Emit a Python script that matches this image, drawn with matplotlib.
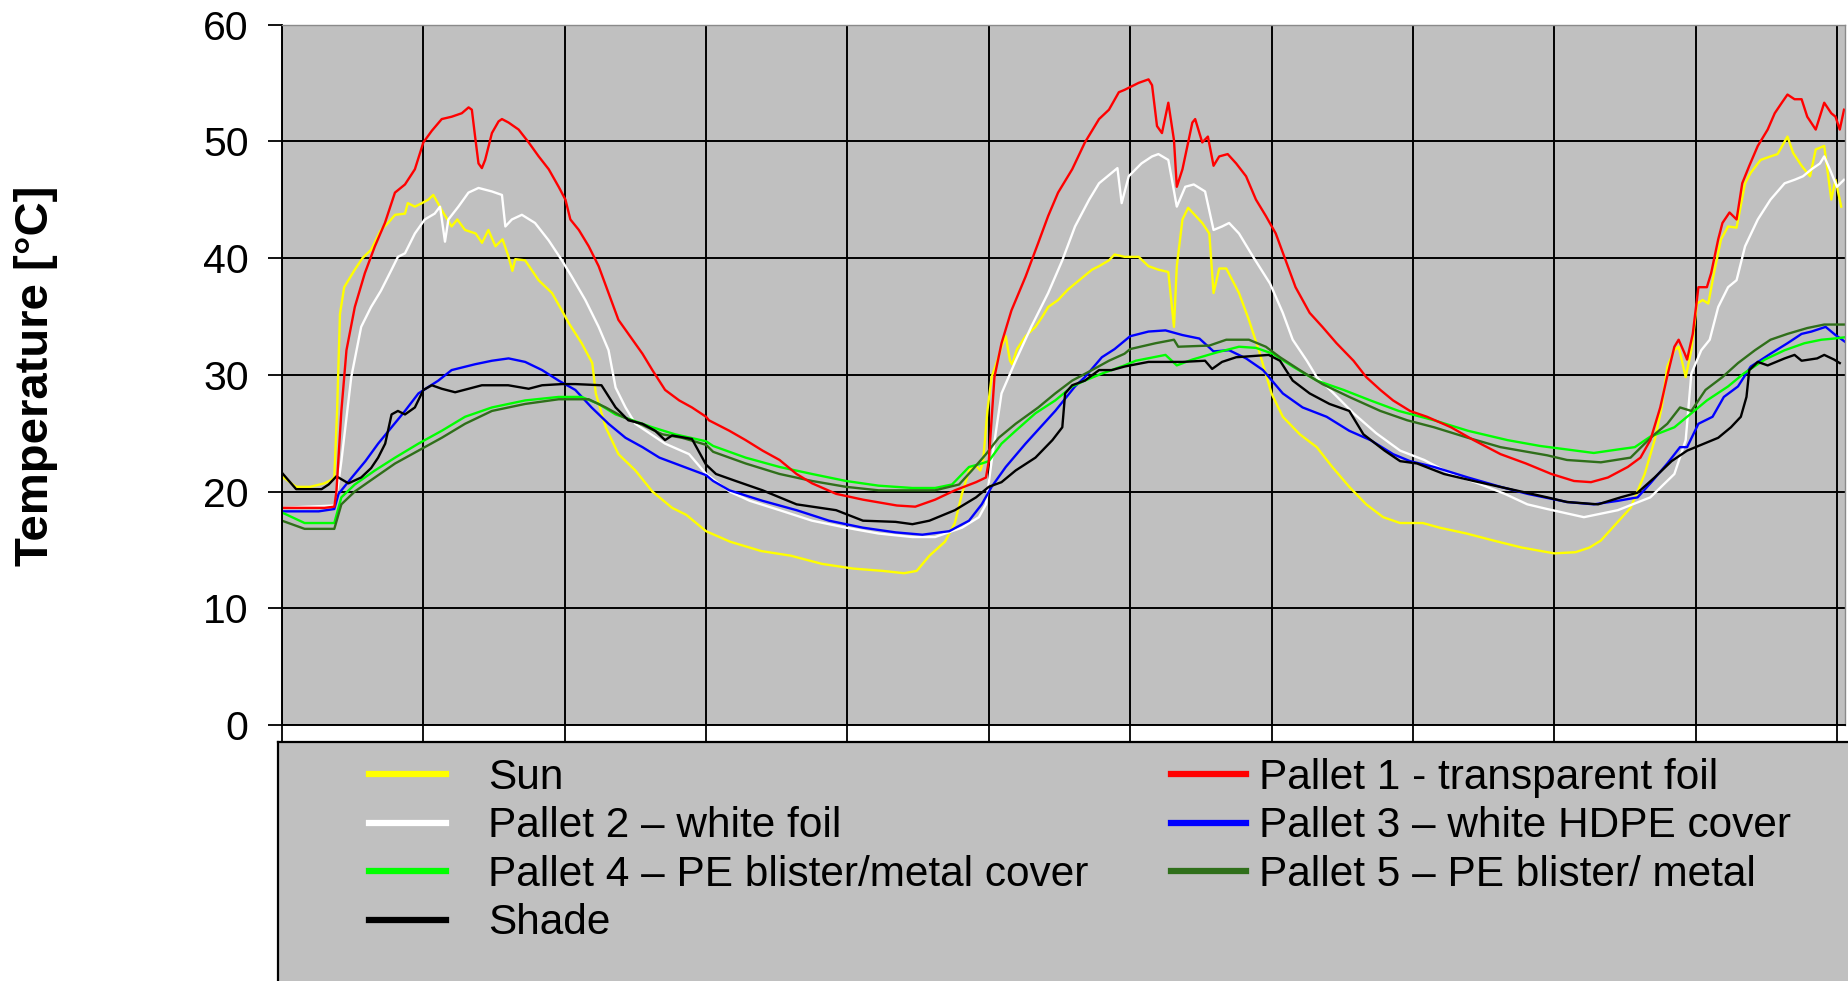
import matplotlib
matplotlib.use('Agg')
import matplotlib.pyplot as plt

plt.rcParams['font.family'] = ['Liberation Sans', 'DejaVu Sans']

# time runs over 11 unlabelled chart intervals; temperatures in deg C
sun_x = [0, 0.1, 0.2, 0.3, 0.35, 0.37, 0.39, 0.41, 0.44, 0.515, 0.57, 0.63, 0.70, 0.75, 0.80, 0.87,
         0.89, 0.94, 0.99, 1.035, 1.07, 1.13, 1.20, 1.24, 1.295, 1.37, 1.415, 1.46, 1.51, 1.56, 1.60,
         1.63, 1.65, 1.72, 1.815, 1.91, 1.98, 2.03, 2.12, 2.195, 2.22, 2.29, 2.38, 2.50, 2.62, 2.76,
         2.86, 3.0, 3.17, 3.39, 3.6, 3.82, 4.04, 4.25, 4.4, 4.49, 4.58, 4.69, 4.76, 4.81, 4.86, 4.91,
         4.94, 4.96, 4.99, 5.02, 5.06, 5.09, 5.12, 5.15, 5.165, 5.2, 5.26, 5.33, 5.38, 5.42, 5.49,
         5.56, 5.64, 5.73, 5.78, 5.85, 5.89, 5.96, 6.06, 6.13, 6.2, 6.27, 6.31, 6.33, 6.37, 6.41,
         6.51, 6.56, 6.59, 6.63, 6.68, 6.77, 6.84, 6.91, 7.0, 7.08, 7.2, 7.32, 7.43, 7.55, 7.67,
         7.79, 7.91, 8.07, 8.19, 8.38, 8.57, 8.77, 9.0, 9.15, 9.25, 9.33, 9.54, 9.64, 9.71, 9.76,
         9.80, 9.85, 9.88, 9.93, 9.97, 10.01, 10.05, 10.09, 10.13, 10.18, 10.23, 10.29, 10.35,
         10.39, 10.46, 10.53, 10.58, 10.65, 10.69, 10.75, 10.81, 10.85, 10.91, 10.96, 10.99, 11.03]
sun_y = [21.3, 20.4, 20.4, 20.7, 21.0, 21.2, 27.0, 35.2, 37.5, 39.0, 40.0, 40.7, 42.4, 43.0, 43.7, 43.8,
         44.7, 44.4, 44.7, 45.0, 45.4, 44.1, 42.7, 43.3, 42.4, 42.1, 41.3, 42.4, 41.0, 41.6, 40.2,
         38.9, 39.9, 39.8, 38.1, 37.0, 35.5, 34.4, 32.7, 31.0, 28.4, 25.5, 23.2, 21.8, 20.0, 18.6,
         18.0, 16.6, 15.7, 14.9, 14.5, 13.8, 13.4, 13.2, 13.0, 13.2, 14.5, 15.7, 17.3, 19.8, 21.8, 22.2,
         21.8, 22.6, 26.9, 29.8, 31.2, 32.4, 33.3, 31.2, 30.9, 32.2, 33.3, 34.1, 35.0, 35.8, 36.4,
         37.3, 38.1, 39.0, 39.3, 39.8, 40.3, 40.1, 40.1, 39.3, 39.0, 38.8, 34.1, 39.3, 43.3, 44.3,
         43.0, 42.1, 37.0, 39.1, 39.1, 37.0, 34.7, 32.1, 28.4, 26.4, 24.9, 23.8, 22.1, 20.4, 18.9,
         17.8, 17.3, 17.3, 16.9, 16.4, 15.8, 15.2, 14.7, 14.8, 15.2, 15.8, 18.6, 21.5, 24.4, 27.2,
         30.7, 32.1, 32.4, 29.8, 32.1, 36.1, 36.4, 36.1, 38.7, 41.6, 42.7, 42.6, 46.4,
         47.3, 48.4, 48.7, 48.9, 50.4, 49.0, 47.9, 47.0, 49.3, 49.6, 45.0, 46.7, 44.4]

p1_x = [0, 0.1, 0.3, 0.37, 0.385, 0.42, 0.456, 0.515, 0.586, 0.657, 0.728, 0.799, 0.87, 0.94, 1.0,
        1.06, 1.13, 1.20, 1.272, 1.32, 1.343, 1.366, 1.39, 1.414, 1.437, 1.485, 1.532, 1.556, 1.603,
        1.674, 1.745, 1.816, 1.887, 1.957, 2.005, 2.04, 2.10, 2.17, 2.24, 2.31, 2.38, 2.48, 2.55,
        2.62, 2.71, 2.81, 2.90, 3.0, 3.02, 3.165, 3.28, 3.40, 3.52, 3.64, 3.75, 3.92, 4.11, 4.35,
        4.48, 4.62, 4.76, 4.91, 4.98, 5.0, 5.04, 5.09, 5.16, 5.26, 5.35, 5.42, 5.49, 5.59, 5.68,
        5.78, 5.85, 5.92, 5.96, 6.06, 6.13, 6.155, 6.19, 6.225, 6.27, 6.31, 6.33, 6.37, 6.44, 6.46,
        6.51, 6.55, 6.59, 6.63, 6.69, 6.75, 6.82, 6.89, 6.96, 7.03, 7.10, 7.17, 7.27, 7.36, 7.46,
        7.58, 7.67, 7.77, 7.86, 7.98, 8.10, 8.27, 8.43, 8.62, 8.80, 8.98, 9.14, 9.26, 9.38, 9.52,
        9.61, 9.68, 9.75, 9.80, 9.85, 9.88, 9.92, 9.94, 9.98, 10.02, 10.08, 10.11, 10.16, 10.19,
        10.24, 10.29, 10.33, 10.38, 10.44, 10.51, 10.56, 10.61, 10.65, 10.70, 10.75, 10.79, 10.85,
        10.91, 10.96, 10.99, 11.02, 11.05]
p1_y = [18.6, 18.6, 18.6, 18.7, 20.0, 26.9, 32.1, 35.8, 38.7, 41.0, 43.0, 45.6, 46.3, 47.6, 49.9,
        50.9, 51.9, 52.1, 52.4, 52.9, 52.7, 50.4, 48.1, 47.7, 48.4, 50.7, 51.7, 51.9, 51.6,
        51.0, 49.9, 48.7, 47.6, 46.1, 45.0, 43.3, 42.4, 41.0, 39.3, 37.0, 34.7, 33.0, 31.8,
        30.4, 28.7, 27.8, 27.2, 26.4, 26.1, 25.2, 24.4, 23.5, 22.7, 21.5, 20.7, 19.8, 19.3, 18.8,
        18.7, 19.3, 20.1, 20.8, 21.2, 22.6, 29.8, 32.7, 35.5, 38.4, 41.3, 43.6, 45.6, 47.6, 49.9,
        51.9, 52.7, 54.2, 54.4, 55.0, 55.3, 54.8, 51.3, 50.7, 53.3, 50.1, 46.1, 47.6, 51.6, 51.9,
        49.9, 50.4, 47.9, 48.7, 48.9, 48.1, 47.0, 45.0, 43.6, 42.1, 39.8, 37.5, 35.3, 34.1, 32.7,
        31.2, 29.8, 28.7, 27.8, 26.9, 26.4, 25.5, 24.4, 23.2, 22.4, 21.5, 20.9, 20.8, 21.2, 22.1,
        22.9, 24.4, 27.2, 29.9, 32.4, 33.0, 31.9, 31.3, 33.5, 37.5, 37.5, 38.7, 41.6, 43.0,
        43.9, 43.3, 46.4, 47.9, 49.6, 51.0, 52.4, 53.3, 54.0, 53.6, 53.6, 52.1, 51.0,
        53.3, 52.4, 52.1, 51.0, 52.7]

p2_x = [0, 0.37, 0.385, 0.42, 0.49, 0.56, 0.63, 0.70, 0.775, 0.82, 0.87, 0.94, 1.01, 1.08, 1.118,
        1.153, 1.177, 1.248, 1.319, 1.39, 1.485, 1.556, 1.58, 1.626, 1.697, 1.79, 1.887, 1.98, 2.05,
        2.146, 2.24, 2.31, 2.36, 2.43, 2.50, 2.71, 2.88, 3.0, 3.165, 3.31, 3.52, 3.75, 3.99, 4.22,
        4.46, 4.62, 4.81, 4.93, 4.98, 5.02, 5.09, 5.19, 5.30, 5.42, 5.52, 5.61, 5.71, 5.78, 5.87,
        5.91, 5.94, 5.99, 6.08, 6.155, 6.20, 6.27, 6.33, 6.39, 6.45, 6.53, 6.59, 6.65, 6.70, 6.77,
        6.87, 6.99, 7.08, 7.15, 7.25, 7.32, 7.44, 7.58, 7.74, 7.91, 8.08, 8.27, 8.46, 8.65, 8.81,
        8.95, 9.21, 9.45, 9.68, 9.85, 9.93, 9.97, 10.04, 10.1, 10.16, 10.23, 10.29, 10.35, 10.44,
        10.53, 10.63, 10.70, 10.76, 10.82, 10.88, 10.91, 10.96, 11.0, 11.05]
p2_y = [18.6, 18.8, 19.5, 22.6, 29.8, 34.1, 35.8, 37.2, 39.0, 40.1, 40.4, 42.1, 43.3, 43.8, 44.4,
        41.4, 43.3, 44.4, 45.6, 46.0, 45.7, 45.4, 42.7, 43.3, 43.7, 43.0, 41.5, 39.8, 38.4,
        36.4, 34.1, 32.1, 28.9, 27.2, 25.8, 24.1, 23.2, 21.5, 20.0, 19.2, 18.4, 17.5, 16.9, 16.4,
        16.1, 16.1, 16.9, 17.8, 18.9, 22.6, 28.4, 31.2, 34.1, 37.0, 39.8, 42.7, 45.0, 46.4, 47.3,
        47.7, 44.7, 47.0, 48.1, 48.7, 48.9, 48.4, 44.4, 46.1, 46.3, 45.7, 42.4, 42.7, 43.0, 42.1,
        40.1, 37.8, 35.3, 33.0, 31.2, 29.8, 28.4, 26.7, 25.0, 23.5, 22.7, 21.5, 20.7, 19.8, 18.9,
        18.5, 17.8, 18.4, 19.5, 21.5, 24.4, 30.1, 32.1, 33.0, 35.8, 37.5, 38.1, 41.0, 43.3,
        45.0, 46.4, 46.7, 47.0, 47.6, 48.1, 48.7, 47.3, 46.1, 46.7]

p3_x = [0, 0.26, 0.37, 0.40, 0.494, 0.59, 0.68, 0.775, 0.87, 0.965, 1.106, 1.20, 1.366, 1.485,
        1.603, 1.72, 1.84, 1.957, 2.075, 2.19, 2.31, 2.43, 2.55, 2.67, 2.78, 3.0, 3.05, 3.165, 3.40,
        3.64, 3.87, 4.11, 4.34, 4.53, 4.72, 4.86, 4.95, 5.02, 5.12, 5.26, 5.47, 5.61, 5.68, 5.80,
        5.89, 6.0, 6.13, 6.25, 6.37, 6.49, 6.59, 6.70, 6.82, 6.94, 7.08, 7.22, 7.39, 7.55, 7.70,
        7.86, 7.98, 8.15, 8.39, 8.62, 8.81, 9.09, 9.28, 9.45, 9.59, 9.68, 9.80, 9.89, 9.94, 10.02,
        10.12, 10.20, 10.30, 10.39, 10.53, 10.65, 10.75, 10.82, 10.92, 10.99, 11.06]
p3_y = [18.3, 18.3, 18.5, 19.8, 21.2, 22.6, 24.1, 25.5, 26.9, 28.4, 29.5, 30.4, 30.9, 31.2,
        31.4, 31.1, 30.4, 29.5, 28.7, 27.2, 25.8, 24.6, 23.8, 22.9, 22.4, 21.4, 20.9, 20.1, 19.2,
        18.4, 17.5, 16.9, 16.5, 16.3, 16.6, 17.5, 18.9, 20.4, 22.1, 24.1, 26.9, 29.0, 29.8, 31.5,
        32.2, 33.3, 33.7, 33.8, 33.4, 33.1, 32.0, 32.1, 31.4, 30.4, 28.4, 27.2, 26.4, 25.2, 24.4,
        23.2, 22.6, 22.1, 21.2, 20.4, 19.8, 19.1, 18.9, 19.2, 19.5, 20.7, 22.4, 23.8, 23.8, 25.8,
        26.4, 28.1, 29.0, 30.7, 31.8, 32.7, 33.5, 33.7, 34.1, 33.4, 32.8]

p4_x = [0, 0.16, 0.37, 0.42, 0.515, 0.657, 0.80, 0.965, 1.13, 1.295, 1.485, 1.72, 1.957, 2.12,
        2.24, 2.36, 2.48, 2.62, 2.78, 3.0, 3.05, 3.28, 3.52, 3.75, 3.99, 4.22, 4.46, 4.62, 4.74,
        4.86, 4.95, 5.0, 5.09, 5.19, 5.33, 5.47, 5.59, 5.68, 5.80, 5.96, 6.04, 6.25, 6.33, 6.44,
        6.61, 6.77, 6.89, 7.01, 7.15, 7.32, 7.51, 7.70, 7.90, 8.15, 8.39, 8.67, 8.90, 9.09, 9.28,
        9.45, 9.57, 9.68, 9.85, 9.94, 10.08, 10.23, 10.34, 10.49, 10.63, 10.77, 10.89, 10.98, 11.05]
p4_y = [18.2, 17.3, 17.3, 19.5, 20.6, 21.8, 22.9, 24.1, 25.2, 26.4, 27.2, 27.8, 28.1, 28.1,
        27.5, 26.6, 26.1, 25.5, 24.9, 24.3, 23.9, 22.9, 22.1, 21.5, 20.9, 20.5, 20.3, 20.3, 20.6,
        22.1, 22.4, 22.6, 24.1, 25.2, 26.7, 27.8, 29.0, 29.5, 30.1, 30.8, 31.2, 31.7, 30.8, 31.3,
        31.9, 32.4, 32.3, 31.8, 30.7, 29.5, 28.7, 27.8, 26.9, 26.1, 25.2, 24.4, 23.9, 23.6, 23.3,
        23.6, 23.8, 24.7, 25.5, 26.4, 27.8, 29.0, 30.1, 31.3, 32.1, 32.7, 33.0, 33.1, 33.2]

p5_x = [0, 0.16, 0.37, 0.42, 0.515, 0.657, 0.80, 0.965, 1.13, 1.295, 1.485, 1.72, 1.957, 2.17,
        2.29, 2.41, 2.55, 2.69, 2.83, 3.0, 3.05, 3.28, 3.52, 3.75, 3.99, 4.22, 4.62, 4.79, 4.88,
        4.98, 5.07, 5.19, 5.35, 5.47, 5.59, 5.73, 5.85, 5.96, 6.0, 6.18, 6.31, 6.34, 6.56, 6.68,
        6.84, 6.96, 7.06, 7.20, 7.36, 7.55, 7.77, 7.96, 8.15, 8.39, 8.62, 8.95, 9.09, 9.33, 9.54,
        9.64, 9.71, 9.80, 9.89, 9.97, 10.07, 10.19, 10.30, 10.42, 10.53, 10.65, 10.79, 10.91, 11.05]
p5_y = [17.5, 16.8, 16.8, 18.9, 20.0, 21.2, 22.4, 23.5, 24.6, 25.8, 26.9, 27.5, 27.9, 27.9,
        27.2, 26.4, 25.7, 24.9, 24.6, 24.0, 23.4, 22.4, 21.5, 20.9, 20.4, 20.1, 20.1, 20.6, 21.8,
        23.2, 24.6, 25.8, 27.2, 28.4, 29.5, 30.4, 31.2, 31.8, 32.2, 32.7, 33.0, 32.4, 32.5, 33.0,
        33.0, 32.4, 31.5, 30.4, 29.2, 28.1, 26.9, 26.1, 25.5, 24.6, 23.8, 23.1, 22.7, 22.5, 22.9,
        24.1, 24.9, 25.8, 27.2, 26.9, 28.7, 29.8, 31.0, 32.1, 33.0, 33.5, 34.0, 34.3, 34.3]

shade_x = [0, 0.1, 0.28, 0.33, 0.385, 0.47, 0.56, 0.63, 0.68, 0.73, 0.775, 0.82, 0.87, 0.94, 1.0,
           1.06, 1.13, 1.225, 1.32, 1.414, 1.60, 1.745, 1.84, 1.98, 2.075, 2.26, 2.36, 2.45, 2.55,
           2.64, 2.71, 2.76, 2.90, 3.0, 3.07, 3.21, 3.40, 3.64, 3.92, 4.11, 4.34, 4.46, 4.58, 4.76,
           4.91, 5.0, 5.09, 5.19, 5.33, 5.45, 5.52, 5.54, 5.59, 5.68, 5.78, 5.87, 5.96, 6.0, 6.13,
           6.37, 6.53, 6.58, 6.65, 6.75, 6.98, 7.06, 7.15, 7.27, 7.41, 7.55, 7.65, 7.80, 7.91, 8.03,
           8.22, 8.43, 8.69, 8.95, 9.09, 9.31, 9.47, 9.59, 9.71, 9.83, 9.94, 10.06, 10.16, 10.25,
           10.32, 10.36, 10.38, 10.44, 10.51, 10.63, 10.70, 10.75, 10.86, 10.91, 10.98, 11.02]
shade_y = [21.6, 20.2, 20.2, 20.6, 21.3, 20.7, 21.2, 22.0, 22.9, 24.1, 26.6, 26.9, 26.6, 27.2, 28.7,
           29.1, 28.8, 28.5, 28.8, 29.1, 29.1, 28.8, 29.1, 29.2, 29.2, 29.1, 27.2, 26.1, 25.8,
           25.2, 24.4, 24.8, 24.5, 22.3, 21.5, 20.9, 20.1, 18.9, 18.4, 17.5, 17.4, 17.2, 17.5, 18.4,
           19.5, 20.4, 20.8, 21.8, 22.9, 24.4, 25.5, 28.4, 29.1, 29.5, 30.4, 30.4, 30.7, 30.8, 31.1,
           31.1, 31.2, 30.5, 31.1, 31.5, 31.7, 31.2, 29.5, 28.4, 27.5, 26.9, 24.9, 23.5, 22.6, 22.4,
           21.5, 20.9, 20.2, 19.5, 19.1, 18.9, 19.5, 19.9, 21.2, 22.6, 23.5, 24.1, 24.6, 25.5,
           26.4, 28.1, 30.4, 31.1, 30.8, 31.4, 31.7, 31.2, 31.4, 31.7, 31.3, 31.0]

series = {
    'Sun': (sun_x, sun_y, '#ffff00'),
    'Pallet 2 \u2013 white foil': (p2_x, p2_y, '#ffffff'),
    'Pallet 3 \u2013 white HDPE cover': (p3_x, p3_y, '#0000ff'),
    'Pallet 4 \u2013 PE blister/metal cover': (p4_x, p4_y, '#00ff00'),
    'Pallet 5 \u2013 PE blister/ metal': (p5_x, p5_y, '#2f6f1a'),
    'Shade': (shade_x, shade_y, '#000000'),
    'Pallet 1 - transparent foil': (p1_x, p1_y, '#ff0000'),
}
legend_left = ['Sun', 'Pallet 2 \u2013 white foil', 'Pallet 4 \u2013 PE blister/metal cover', 'Shade']
legend_right = ['Pallet 1 - transparent foil', 'Pallet 3 \u2013 white HDPE cover',
                'Pallet 5 \u2013 PE blister/ metal']

W, H = 1848, 981
fig = plt.figure(figsize=(W / 100, H / 100), dpi=100)

ax = fig.add_axes([282 / W, 1 - 725 / H, (1845 - 282) / W, (725 - 24.5) / H])
ax.set_facecolor('#c0c0c0')

lines = {}
for name, (xs, ys, col) in series.items():
    lines[name], = ax.plot(xs, ys, color=col, lw=1.7)

ax.set_xlim(0, 11.057)
ax.set_ylim(0, 60)
ax.set_xticks(range(12))
ax.set_xticklabels([])
ax.set_yticks(range(0, 61, 10))
ax.set_axisbelow(True)
ax.grid(True, color='black', lw=1.4)
ax.yaxis.get_gridlines()[-1].set_visible(False)
ax.tick_params(axis='x', direction='out', length=11.5, width=1.3, color='black')
ax.tick_params(axis='y', direction='out', length=10, width=1.3, color='black',
               labelsize=29.5, pad=14)
for s in ['left', 'bottom']:
    ax.spines[s].set_color('black')
    ax.spines[s].set_linewidth(1.4)
for s in ['top', 'right']:
    ax.spines[s].set_color('#8a8a8a')
    ax.spines[s].set_linewidth(1.0)

fig.text(36 / W, 1 - 376 / H, 'Temperature [\u00b0C]', rotation=90, fontsize=34,
         fontweight='bold', ha='center', va='center')

# grey legend panel below the plot
lax = fig.add_axes([278 / W, -0.01, 1 - 278 / W + 0.01, (981 - 742) / H + 0.01])
lax.set_facecolor('#c0c0c0')
lax.set_xticks([])
lax.set_yticks([])
for s in ['top', 'left']:
    lax.spines[s].set_color('black')
    lax.spines[s].set_linewidth(1.6)
for s in ['right', 'bottom']:
    lax.spines[s].set_visible(False)

leg_kw = dict(loc='upper left', frameon=False, fontsize=30.5, labelspacing=0.2,
              borderpad=0, borderaxespad=0)
leg1 = fig.legend([lines[n] for n in legend_left], legend_left,
                  bbox_to_anchor=(369 / W, 1 - 758 / H),
                  handlelength=1.82, handletextpad=1.0, **leg_kw)
leg2 = fig.legend([lines[n] for n in legend_right], legend_right,
                  bbox_to_anchor=(1171 / W, 1 - 758 / H),
                  handlelength=1.78, handletextpad=0.3, **leg_kw)
for lg in (leg1, leg2):
    for h in lg.legend_handles:
        h.set_linewidth(4.5)

fig.savefig('out.png', dpi=100)
